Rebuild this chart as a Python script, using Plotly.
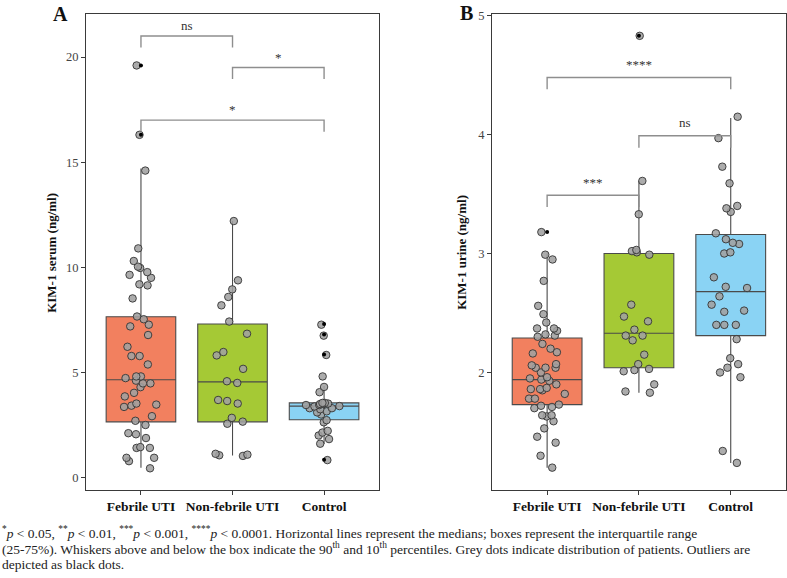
import plotly.graph_objects as go

# ---------------- data ----------------
categories = ["Febrile UTI", "Non-febrile UTI", "Control"]

# Panel A: KIM-1 serum (ng/ml)
serum_febrile = [19.6, 16.3, 14.6, 10.9, 10.3, 9.97, 10.03, 9.77, 9.5, 9.19, 9.64, 9.14, 8.52,
                 7.66, 7.53, 7.27, 7.19, 6.78, 6.22, 5.78, 5.78, 5.38, 4.81, 4.81, 4.73, 4.61,
                 4.48, 4.48, 4.3, 4.03, 3.86, 3.52, 3.47, 3.42, 3.36, 2.92, 2.7, 2.5, 2.11,
                 2.06, 1.88, 1.45, 1.41, 1.41, 0.94, 0.94, 0.78, 0.44]
serum_nonfebrile = [12.2, 9.38, 8.95, 8.59, 8.19, 7.42, 6.84, 5.97, 5.81, 5.17, 4.58, 4.5,
                    3.69, 3.64, 3.52, 2.84, 2.66, 2.56, 1.13, 1.03, 1.06, 1.09]
serum_control = [7.27, 6.75, 5.83, 4.81, 4.31, 4.06, 3.5, 3.55, 3.5, 3.45, 3.52, 3.55, 3.38,
                 3.3, 3.1, 3.25, 3.3, 3.0, 3.15, 3.4, 3.45, 2.73, 2.63, 2.22, 2.14, 2.0, 1.83,
                 1.61, 0.83]
serum_q1 = [2.65, 2.65, 2.75]
serum_median = [4.65, 4.55, 3.4]
serum_q3 = [7.65, 7.3, 3.55]
serum_p10 = [0.47, 1.05, 1.6]
serum_p90 = [14.7, 12.2, 4.35]
serum_outliers_febrile = [19.6, 16.3]
serum_outliers_nonfebrile = []
serum_outliers_control = [7.3, 6.8, 5.85, 0.85]

# Panel B: KIM-1 urine (ng/ml)
urine_febrile = [3.18, 2.99, 2.95, 2.77, 2.56, 2.49, 2.42, 2.37, 2.35, 2.37, 2.31, 2.32, 2.3,
                 2.24, 2.2, 2.16, 2.17, 2.07, 2.06, 2.04, 2.04, 2.04, 2.0, 1.96, 1.94, 1.95,
                 1.93, 1.9, 1.86, 1.86, 1.87, 1.85, 1.78, 1.78, 1.82, 1.73, 1.72, 1.7, 1.71,
                 1.64, 1.64, 1.63, 1.59, 1.53, 1.46, 1.41, 1.3, 1.2]
urine_nonfebrile = [4.83, 3.61, 3.33, 3.03, 3.02, 3.01, 2.99, 2.57, 2.47, 2.43, 2.36, 2.31,
                    2.31, 2.27, 2.15, 2.07, 2.03, 2.01, 2.02, 1.9, 1.83, 1.84]
urine_control = [4.15, 3.97, 3.73, 3.59, 3.4, 3.38, 3.35, 3.17, 3.12, 3.08, 3.09, 3.01, 3.0,
                 2.8, 2.72, 2.71, 2.64, 2.57, 2.52, 2.51, 2.4, 2.4, 2.4, 2.28, 2.12, 2.07,
                 2.04, 2.0, 1.96, 1.34, 1.24]
urine_q1 = [1.73, 2.04, 2.31]
urine_median = [1.94, 2.33, 2.68]
urine_q3 = [2.29, 3.0, 3.16]
urine_p10 = [1.2, 1.83, 1.24]
urine_p90 = [3.0, 3.61, 4.14]
urine_outliers_febrile = [3.18]
urine_outliers_nonfebrile = [4.83]
urine_outliers_control = []

# significance brackets: (group a, group b, label, height)
serum_tests = [(0, 1, "ns", 21.0), (1, 2, "*", 19.5), (0, 2, "*", 17.0)]
urine_tests = [(0, 2, "****", 4.48), (1, 2, "ns", 3.99), (0, 1, "***", 3.49)]

caption_lines = [
    "<sup>*</sup><i>p</i> &lt; 0.05, <sup>**</sup><i>p</i> &lt; 0.01, <sup>***</sup><i>p</i> &lt; 0.001, "
    "<sup>****</sup><i>p</i> &lt; 0.0001. Horizontal lines represent the medians; boxes represent the interquartile range",
    "(25-75%). Whiskers above and below the box indicate the 90<sup>th</sup> and 10<sup>th</sup> percentiles. "
    "Grey dots indicate distribution of patients. Outliers are",
    "depicted as black dots.",
]

# ---------------- styling ----------------
FONT = "Liberation Serif, Times New Roman, serif"
fills = ["#F2805F", "#A5C935", "#8AD3F4"]
box_line = "#4a4a4a"
axis_col = "#3a3a3a"
brk_col = "#8e8e8e"

fig = go.Figure()

panels = [
    dict(xa="x", ya="y",
         pts=[serum_febrile, serum_nonfebrile, serum_control],
         q1=serum_q1, med=serum_median, q3=serum_q3, lo=serum_p10, hi=serum_p90,
         outl=[serum_outliers_febrile, serum_outliers_nonfebrile, serum_outliers_control],
         tests=serum_tests, leg=0.55, txt=0.5),
    dict(xa="x2", ya="y2",
         pts=[urine_febrile, urine_nonfebrile, urine_control],
         q1=urine_q1, med=urine_median, q3=urine_q3, lo=urine_p10, hi=urine_p90,
         outl=[urine_outliers_febrile, urine_outliers_nonfebrile, urine_outliers_control],
         tests=urine_tests, leg=0.1, txt=0.11),
]

shapes = []
annotations = []

for p in panels:
    for i in range(3):
        fig.add_trace(go.Box(
            x=[i], q1=[p["q1"][i]], median=[p["med"][i]], q3=[p["q3"][i]],
            lowerfence=[p["lo"][i]], upperfence=[p["hi"][i]],
            width=0.76, whiskerwidth=0, fillcolor=fills[i],
            line=dict(color=box_line, width=1.1), boxpoints=False,
            xaxis=p["xa"], yaxis=p["ya"], showlegend=False, hoverinfo="skip"))
    for i in range(3):
        fig.add_trace(go.Box(
            x=[i] * len(p["pts"][i]), y=p["pts"][i],
            boxpoints="all", jitter=1, pointpos=0, width=0.46,
            fillcolor="rgba(0,0,0,0)", line=dict(color="rgba(0,0,0,0)", width=0),
            marker=dict(color="rgba(160,160,160,0.88)", size=7.5,
                        line=dict(color="#333333", width=0.9)),
            xaxis=p["xa"], yaxis=p["ya"], showlegend=False))
    for i in range(3):
        if p["outl"][i]:
            fig.add_trace(go.Scatter(
                x=[i] * len(p["outl"][i]), y=p["outl"][i], mode="markers",
                marker=dict(color="black", size=4),
                xaxis=p["xa"], yaxis=p["ya"], showlegend=False))
    for (a, b, lab, yv) in p["tests"]:
        yref = p["ya"]
        xref = p["xa"]
        legd = p["leg"]
        shapes.append(dict(type="path", xref=xref, yref=yref,
                           path=f"M {a},{yv - legd} L {a},{yv} L {b},{yv} L {b},{yv - legd}",
                           line=dict(color=brk_col, width=1.4)))
        annotations.append(dict(x=(a + b) / 2, y=yv + p["txt"], xref=xref, yref=yref,
                                text=lab, showarrow=False, xanchor="center", yanchor="middle",
                                font=dict(family=FONT, size=13, color="#333333")))

common_x = dict(range=[-0.6, 2.6], tickvals=[0, 1, 2],
                ticks="outside", ticklen=4, tickcolor=axis_col, showline=True, mirror=True,
                linecolor=axis_col, linewidth=1.2, showgrid=False, zeroline=False,
                tickfont=dict(family=FONT, size=13.5, color="#111111"))
common_y = dict(ticks="outside", ticklen=4, tickcolor=axis_col, showline=True, mirror=True,
                linecolor=axis_col, linewidth=1.2, showgrid=False, zeroline=False,
                tickfont=dict(family=FONT, size=12.5, color="#444444"),
                domain=[0.154, 0.9844])

bold_cats = ["<b>" + c + "</b>" for c in categories]

fig.update_layout(
    width=787, height=578, margin=dict(l=0, r=0, t=0, b=0),
    paper_bgcolor="white", plot_bgcolor="white", boxmode="overlay", showlegend=False,
    xaxis=dict(common_x, domain=[0.1093, 0.4816], ticktext=bold_cats),
    yaxis=dict(common_y, range=[-0.58, 22.05], tickvals=[0, 5, 10, 15, 20]),
    xaxis2=dict(common_x, domain=[0.6252, 0.9985], ticktext=bold_cats, anchor="y2"),
    yaxis2=dict(common_y, range=[1.014, 5.014], tickvals=[2, 3, 4, 5], anchor="x2"),
    shapes=shapes,
)

annotations += [
    dict(x=52 / 787, y=(578 - 250) / 578, xref="paper", yref="paper", text="<b>KIM-1 serum (ng/ml)</b>",
         textangle=-90, showarrow=False, xanchor="center", yanchor="middle",
         font=dict(family=FONT, size=13, color="#111111")),
    dict(x=462 / 787, y=(578 - 250) / 578, xref="paper", yref="paper", text="<b>KIM-1 urine (ng/ml)</b>",
         textangle=-90, showarrow=False, xanchor="center", yanchor="middle",
         font=dict(family=FONT, size=13, color="#111111")),
    dict(x=60 / 787, y=(578 - 9) / 578, xref="paper", yref="paper", text="<b>A</b>",
         showarrow=False, xanchor="center", yanchor="middle",
         font=dict(family=FONT, size=20, color="#111111")),
    dict(x=466 / 787, y=(578 - 8) / 578, xref="paper", yref="paper", text="<b>B</b>",
         showarrow=False, xanchor="center", yanchor="middle",
         font=dict(family=FONT, size=20, color="#111111")),
]
for k, line in enumerate(caption_lines):
    annotations.append(dict(x=0.0, y=(578 - (532 + 16 * k)) / 578, xref="paper", yref="paper",
                            text=line, showarrow=False, xanchor="left", yanchor="middle",
                            font=dict(family=FONT, size=13.5, color="#222222")))

fig.update_layout(annotations=annotations)

fig.write_html("out.html", config={"displayModeBar": False},
               post_script="document.body.style.margin='0';")
